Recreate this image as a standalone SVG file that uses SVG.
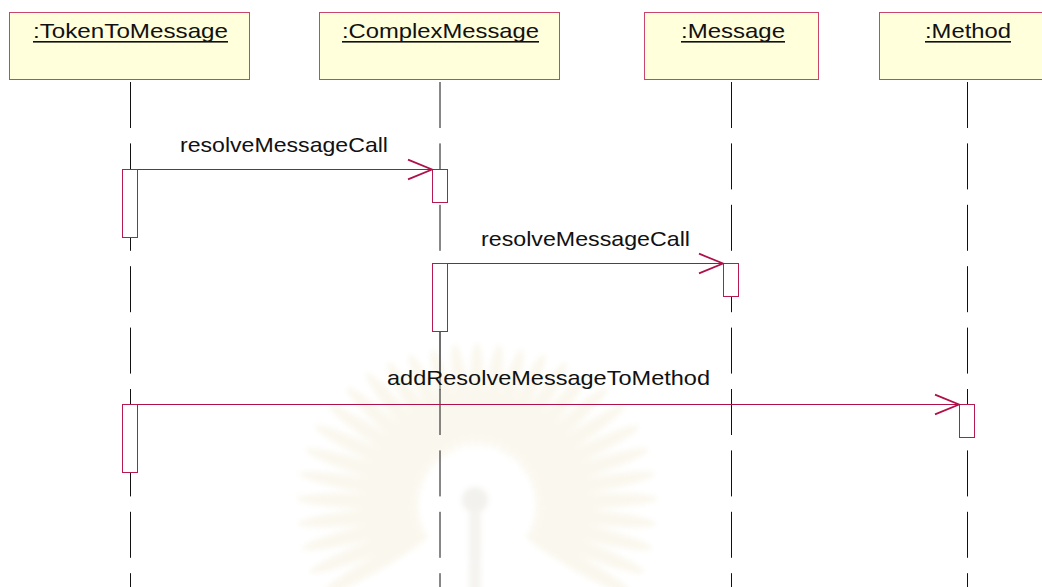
<svg xmlns="http://www.w3.org/2000/svg" width="1042" height="587" viewBox="0 0 1042 587">
  <style>
    .obj { fill: #ffffdc; stroke: #c8466c; stroke-width: 1; }
    .lbl { font-family: "Liberation Sans", Arial, sans-serif; font-size: 21px; fill: #111; }
    .uline { fill: #111; }
    .life { stroke: #111; stroke-width: 1; stroke-dasharray: 46 15.4; fill: none; }
    .act { fill: #ffffff; stroke: #b51a50; stroke-width: 1; }
    .msg { stroke: #b0104a; stroke-width: 1; fill: none; marker-end: url(#open); }
    .ray { fill: #efe7c8; }
  </style>
  <defs>
    <marker id="open" markerUnits="userSpaceOnUse" markerWidth="30" markerHeight="24" viewBox="-24 -11 26 22" refX="0" refY="0" orient="auto">
      <path d="M-22,-9 L0,0 L-22,9" fill="none" stroke="#b0104a" stroke-width="1.6"/>
    </marker>
    <filter id="soft" x="-10%" y="-10%" width="120%" height="120%">
      <feGaussianBlur stdDeviation="2.5"/>
    </filter>
  </defs>

  <rect width="1042" height="587" fill="#ffffff"/>

  <!-- faint background emblem -->
  <g id="emblem" filter="url(#soft)" opacity="0.3">
    <g transform="translate(477 505)">
      <ellipse class="ray" cx="0" cy="-110" rx="8" ry="52" transform="rotate(0)"/>
      <ellipse class="ray" cx="0" cy="-110" rx="8" ry="52" transform="rotate(8)"/>
      <ellipse class="ray" cx="0" cy="-110" rx="8" ry="52" transform="rotate(16)"/>
      <ellipse class="ray" cx="0" cy="-111" rx="8" ry="54" transform="rotate(24)"/>
      <ellipse class="ray" cx="0" cy="-112" rx="8" ry="56" transform="rotate(32)"/>
      <ellipse class="ray" cx="0" cy="-114" rx="8" ry="58" transform="rotate(40)"/>
      <ellipse class="ray" cx="0" cy="-115" rx="8" ry="60" transform="rotate(48)"/>
      <ellipse class="ray" cx="0" cy="-116" rx="8" ry="62" transform="rotate(56)"/>
      <ellipse class="ray" cx="0" cy="-117" rx="8" ry="63" transform="rotate(64)"/>
      <ellipse class="ray" cx="0" cy="-117" rx="8" ry="63" transform="rotate(72)"/>
      <ellipse class="ray" cx="0" cy="-117" rx="8" ry="63" transform="rotate(80)"/>
      <ellipse class="ray" cx="0" cy="-117" rx="8" ry="63" transform="rotate(88)"/>
      <ellipse class="ray" cx="0" cy="-117" rx="8" ry="63" transform="rotate(96)"/>
      <ellipse class="ray" cx="0" cy="-117" rx="8" ry="63" transform="rotate(104)"/>
      <ellipse class="ray" cx="0" cy="-117" rx="8" ry="63" transform="rotate(112)"/>
      <ellipse class="ray" cx="0" cy="-117" rx="8" ry="63" transform="rotate(120)"/>
      <ellipse class="ray" cx="0" cy="-110" rx="8" ry="52" transform="rotate(-8)"/>
      <ellipse class="ray" cx="0" cy="-110" rx="8" ry="52" transform="rotate(-16)"/>
      <ellipse class="ray" cx="0" cy="-111" rx="8" ry="54" transform="rotate(-24)"/>
      <ellipse class="ray" cx="0" cy="-112" rx="8" ry="56" transform="rotate(-32)"/>
      <ellipse class="ray" cx="0" cy="-114" rx="8" ry="58" transform="rotate(-40)"/>
      <ellipse class="ray" cx="0" cy="-115" rx="8" ry="60" transform="rotate(-48)"/>
      <ellipse class="ray" cx="0" cy="-116" rx="8" ry="62" transform="rotate(-56)"/>
      <ellipse class="ray" cx="0" cy="-117" rx="8" ry="63" transform="rotate(-64)"/>
      <ellipse class="ray" cx="0" cy="-117" rx="8" ry="63" transform="rotate(-72)"/>
      <ellipse class="ray" cx="0" cy="-117" rx="8" ry="63" transform="rotate(-80)"/>
      <ellipse class="ray" cx="0" cy="-117" rx="8" ry="63" transform="rotate(-88)"/>
      <ellipse class="ray" cx="0" cy="-117" rx="8" ry="63" transform="rotate(-96)"/>
      <ellipse class="ray" cx="0" cy="-117" rx="8" ry="63" transform="rotate(-104)"/>
      <ellipse class="ray" cx="0" cy="-117" rx="8" ry="63" transform="rotate(-112)"/>
      <ellipse class="ray" cx="0" cy="-117" rx="8" ry="63" transform="rotate(-120)"/>
      <circle cx="0" cy="0" r="58" fill="#ffffff"/>
      <circle cx="-2" cy="-5" r="13" fill="#d8d4c8"/>
      <rect x="-8" y="8" width="12" height="80" fill="#dedad0"/>
    </g>
  </g>

  <!-- lifelines -->
  <g id="lifelines">
    <line class="life" x1="130.5" y1="82" x2="130.5" y2="587"/>
    <line class="life" x1="440" y1="82" x2="440" y2="587" stroke="#555"/>
    <line x1="440" y1="332" x2="440" y2="390" stroke="#555" stroke-width="1"/>
    <line class="life" x1="731.5" y1="82" x2="731.5" y2="587"/>
    <line class="life" x1="967.5" y1="82" x2="967.5" y2="587"/>
  </g>

  <!-- object heads -->
  <g id="obj-tokentomessage">
    <rect class="obj" x="9.5" y="12.5" width="240" height="67"/>
    <text class="lbl" x="33" y="38" textLength="195" lengthAdjust="spacingAndGlyphs">:TokenToMessage</text>
    <rect class="uline" x="33" y="41" width="195" height="1.6"/>
  </g>
  <g id="obj-complexmessage">
    <rect class="obj" x="319.5" y="12.5" width="240" height="67"/>
    <text class="lbl" x="342" y="38" textLength="197" lengthAdjust="spacingAndGlyphs">:ComplexMessage</text>
    <rect class="uline" x="342" y="41" width="197" height="1.6"/>
  </g>
  <g id="obj-message">
    <rect class="obj" x="644.5" y="12.5" width="174" height="67"/>
    <text class="lbl" x="681" y="38" textLength="104" lengthAdjust="spacingAndGlyphs">:Message</text>
    <rect class="uline" x="681" y="41" width="104" height="1.6"/>
  </g>
  <g id="obj-method">
    <rect class="obj" x="879.5" y="12.5" width="174" height="67"/>
    <text class="lbl" x="925" y="38" textLength="86" lengthAdjust="spacingAndGlyphs">:Method</text>
    <rect class="uline" x="925" y="41" width="86" height="1.6"/>
  </g>

  <!-- activation bars -->
  <g id="activations">
    <rect class="act" x="122.5" y="169.5" width="15" height="68"/>
    <rect class="act" x="432.5" y="169.5" width="15" height="33"/>
    <rect class="act" x="432.5" y="263.5" width="15" height="68"/>
    <rect class="act" x="723.5" y="263.5" width="15" height="33"/>
    <rect class="act" x="122.5" y="404.5" width="15" height="68"/>
    <rect class="act" x="959.5" y="404.5" width="15" height="33"/>
  </g>

  <!-- messages -->
  <g id="connectors">
    <line class="msg" x1="138" y1="169.5" x2="432" y2="169.5"/>
    <line class="msg" x1="448" y1="263.5" x2="723" y2="263.5"/>
    <line class="msg" x1="138" y1="404.5" x2="959" y2="404.5"/>
    <text class="lbl" x="180" y="151.5" textLength="208" lengthAdjust="spacingAndGlyphs">resolveMessageCall</text>
    <text class="lbl" x="481" y="245.5" textLength="209" lengthAdjust="spacingAndGlyphs">resolveMessageCall</text>
    <text class="lbl" x="387" y="385" textLength="323" lengthAdjust="spacingAndGlyphs">addResolveMessageToMethod</text>
  </g>
</svg>
